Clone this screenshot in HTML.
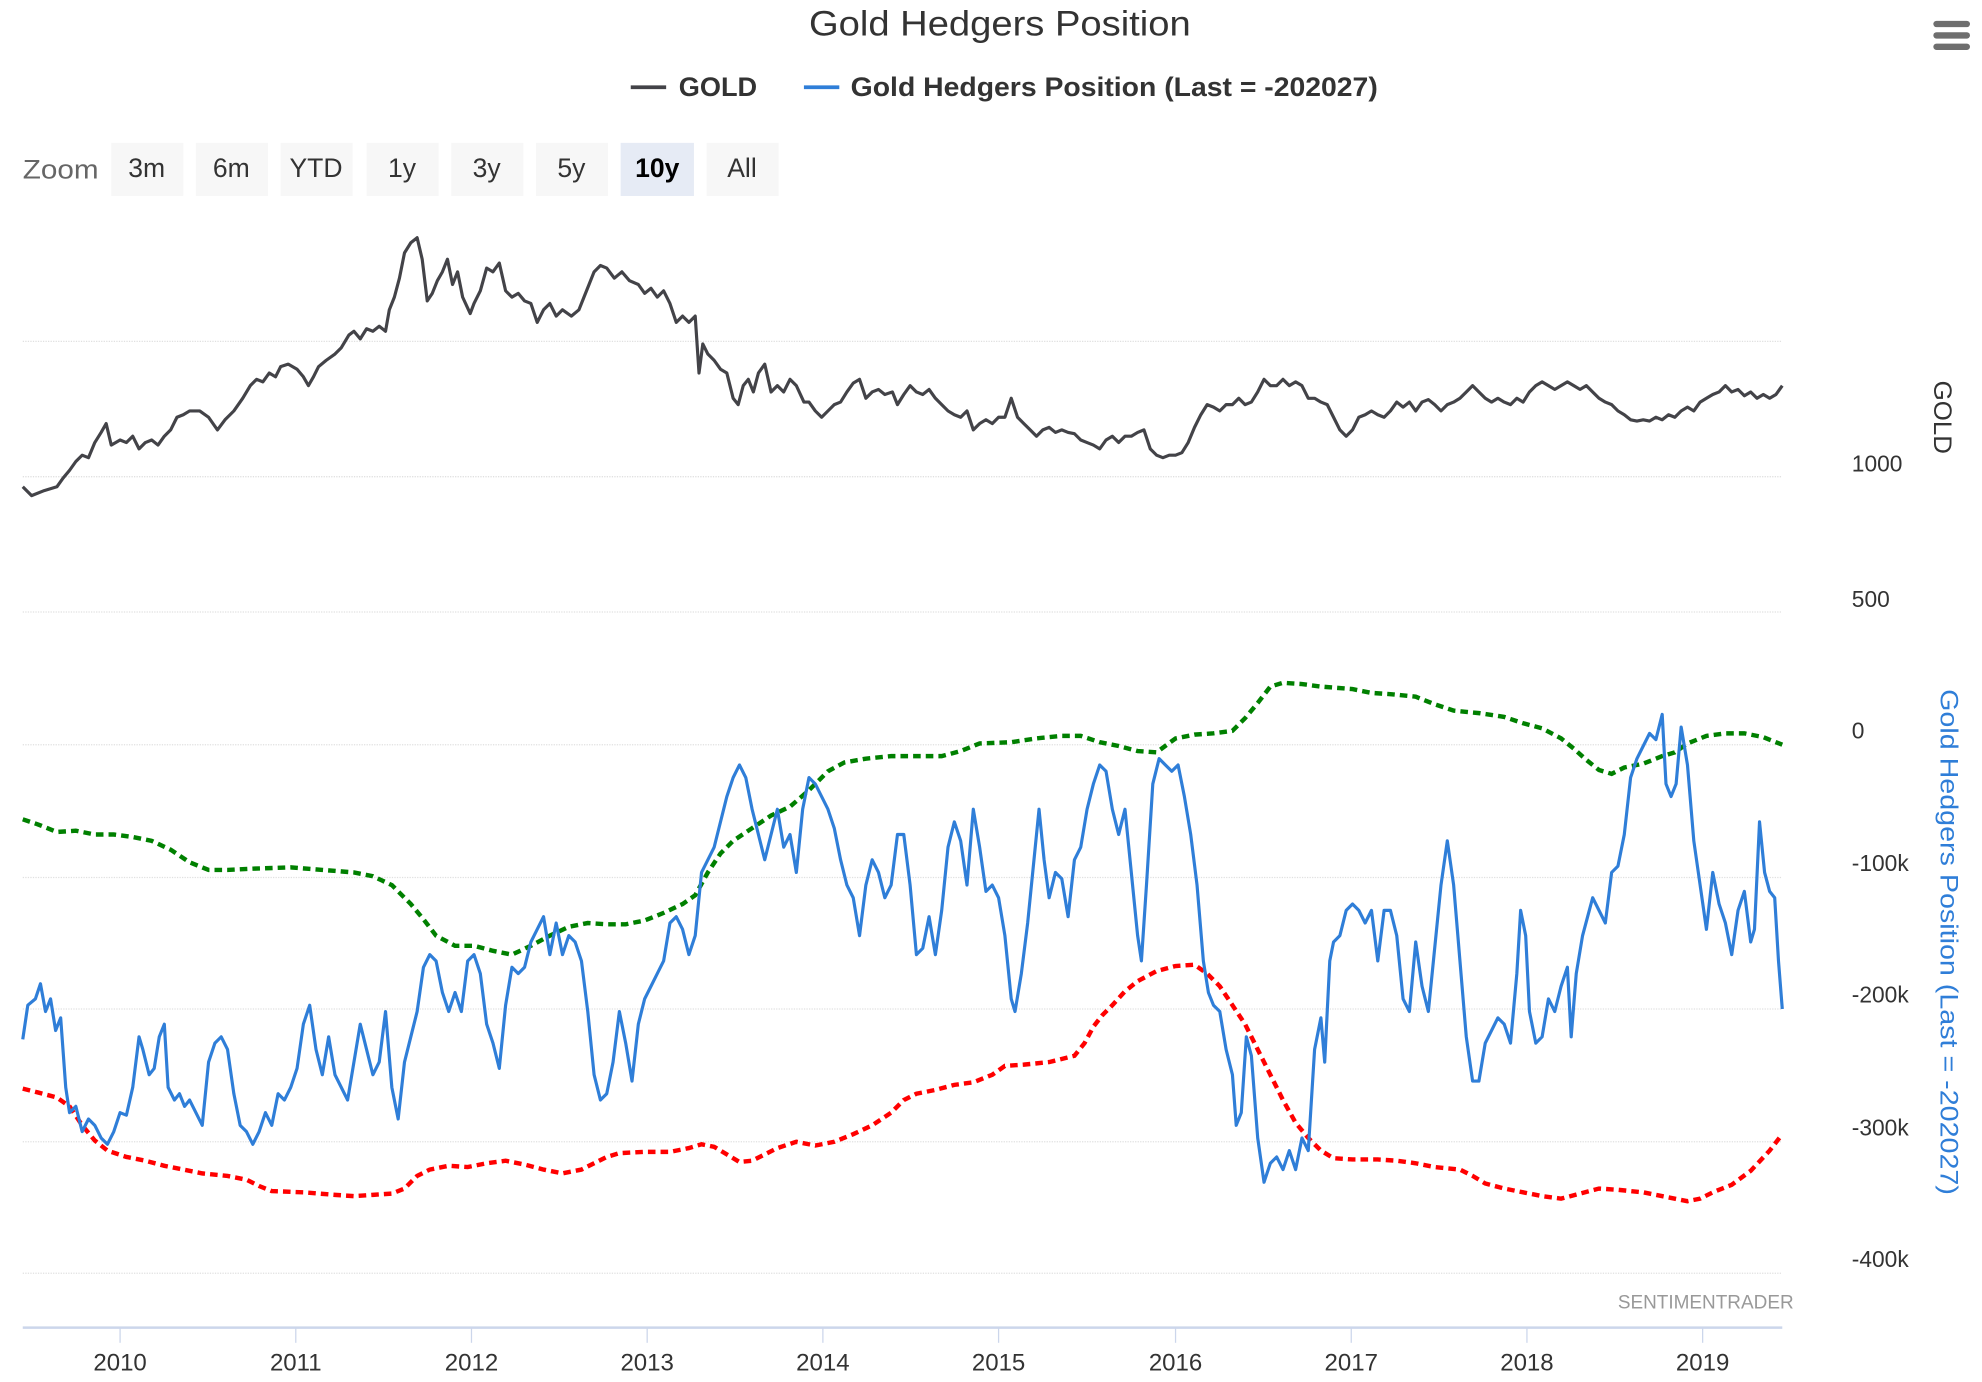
<!DOCTYPE html>
<html><head><meta charset="utf-8"><style>
html,body{margin:0;padding:0;background:#fff;}
svg{display:block;font-family:"Liberation Sans",sans-serif;}
</style></head><body>
<svg width="1982" height="1382" viewBox="0 0 1568 1093" preserveAspectRatio="none">
<rect width="1568" height="1093" fill="#fff"/>
<text x="640" y="28" font-size="28" fill="#333" textLength="302" lengthAdjust="spacingAndGlyphs">Gold Hedgers Position</text>
<g stroke-linecap="round" stroke-width="5" stroke="#6e6e6e"><line x1="1532" y1="19" x2="1556" y2="19"/><line x1="1532" y1="28" x2="1556" y2="28"/><line x1="1532" y1="37" x2="1556" y2="37"/></g>
<line x1="499" y1="69" x2="527" y2="69" stroke="#434348" stroke-width="3"/>
<text x="537" y="76" font-size="21" font-weight="bold" fill="#333" textLength="62" lengthAdjust="spacingAndGlyphs">GOLD</text>
<line x1="636" y1="69" x2="664" y2="69" stroke="#2f7ed8" stroke-width="3"/>
<text x="673" y="76" font-size="21" font-weight="bold" fill="#333" textLength="417" lengthAdjust="spacingAndGlyphs">Gold Hedgers Position (Last = -202027)</text>
<text x="18" y="141" font-size="21" fill="#666" textLength="60" lengthAdjust="spacingAndGlyphs">Zoom</text>
<g font-size="21" fill="#333" text-anchor="middle">
<rect x="88" y="113" width="57" height="42" fill="#f7f7f7"/><text x="116" y="140">3m</text>
<rect x="155" y="113" width="57" height="42" fill="#f7f7f7"/><text x="183" y="140">6m</text>
<rect x="222" y="113" width="57" height="42" fill="#f7f7f7"/><text x="250" y="140">YTD</text>
<rect x="290" y="113" width="57" height="42" fill="#f7f7f7"/><text x="318" y="140">1y</text>
<rect x="357" y="113" width="57" height="42" fill="#f7f7f7"/><text x="385" y="140">3y</text>
<rect x="424" y="113" width="57" height="42" fill="#f7f7f7"/><text x="452" y="140">5y</text>
<rect x="491" y="113" width="58" height="42" fill="#e6ebf5"/><text x="520" y="140" font-weight="bold" fill="#000">10y</text>
<rect x="559" y="113" width="57" height="42" fill="#f7f7f7"/><text x="587" y="140">All</text>
</g>
<g stroke="#e0e0e0" stroke-width="1" stroke-dasharray="1,1">
<line x1="18" y1="270" x2="1410" y2="270"/><line x1="18" y1="377" x2="1410" y2="377"/><line x1="18" y1="484" x2="1410" y2="484"/>
<line x1="18" y1="589" x2="1410" y2="589"/><line x1="18" y1="694" x2="1410" y2="694"/><line x1="18" y1="798" x2="1410" y2="798"/><line x1="18" y1="903" x2="1410" y2="903"/><line x1="18" y1="1007" x2="1410" y2="1007"/>
</g>
<g font-size="18" fill="#333">
<text x="1465" y="373">1000</text><text x="1465" y="480">500</text>
<text x="1465" y="584">0</text><text x="1465" y="689">-100k</text><text x="1465" y="793">-200k</text><text x="1465" y="898">-300k</text><text x="1465" y="1002">-400k</text>
</g>
<text transform="translate(1530,301) rotate(90)" font-size="20" fill="#333" textLength="58" lengthAdjust="spacingAndGlyphs">GOLD</text>
<text transform="translate(1535,545) rotate(90)" font-size="20" fill="#2f7ed8" textLength="400" lengthAdjust="spacingAndGlyphs">Gold Hedgers Position (Last = -202027)</text>
<text x="1419" y="1035" text-anchor="end" font-size="15" fill="#999">SENTIMENTRADER</text>
<line x1="18" y1="1050" x2="1410" y2="1050" stroke="#ccd6eb" stroke-width="2"/>
<g stroke="#ccd6eb" stroke-width="1">
<line x1="95" y1="1050" x2="95" y2="1062"/><line x1="234" y1="1050" x2="234" y2="1062"/><line x1="373" y1="1050" x2="373" y2="1062"/><line x1="512" y1="1050" x2="512" y2="1062"/><line x1="651" y1="1050" x2="651" y2="1062"/><line x1="790" y1="1050" x2="790" y2="1062"/><line x1="930" y1="1050" x2="930" y2="1062"/><line x1="1069" y1="1050" x2="1069" y2="1062"/><line x1="1208" y1="1050" x2="1208" y2="1062"/><line x1="1347" y1="1050" x2="1347" y2="1062"/>
</g>
<g font-size="19" fill="#333" text-anchor="middle">
<text x="95" y="1084">2010</text><text x="234" y="1084">2011</text><text x="373" y="1084">2012</text><text x="512" y="1084">2013</text><text x="651" y="1084">2014</text><text x="790" y="1084">2015</text><text x="930" y="1084">2016</text><text x="1069" y="1084">2017</text><text x="1208" y="1084">2018</text><text x="1347" y="1084">2019</text>
</g>
<polyline fill="none" stroke="#008000" stroke-width="3.5" stroke-dasharray="6,4" points="18,648 30,652 45,658 60,657 75,660 90,660 105,662 120,665 135,672 150,682 165,688 180,688 200,687 230,686 255,688 280,690 295,693 310,700 325,715 335,727 345,740 360,748 375,748 390,752 405,755 420,748 435,740 450,733 465,730 480,731 495,731 510,728 525,722 540,715 550,708 560,690 570,675 580,665 595,655 610,645 625,638 640,625 655,610 668,603 685,600 705,598 725,598 745,598 760,594 775,588 800,587 820,584 840,582 855,582 870,587 885,590 900,594 915,595 930,584 945,581 960,580 975,578 985,568 995,556 1005,543 1015,540 1030,541 1045,543 1070,545 1085,548 1100,549 1120,551 1135,557 1150,562 1170,564 1190,567 1205,572 1220,576 1235,584 1245,592 1255,601 1265,609 1275,612 1285,607 1300,604 1315,598 1325,595 1335,588 1350,582 1365,580 1380,580 1395,583 1410,589"/>
<polyline fill="none" stroke="#ff0000" stroke-width="3.5" stroke-dasharray="6,4" points="18,861 30,864 45,868 55,875 65,890 75,902 85,910 100,915 115,918 130,922 145,925 160,928 180,930 195,933 205,938 215,942 240,943 265,945 280,946 295,945 310,944 320,940 330,930 340,925 355,922 370,923 385,920 400,918 415,921 430,925 445,928 460,925 470,920 480,915 490,912 510,911 530,911 545,908 555,905 565,907 575,913 585,919 595,918 605,913 615,908 630,903 645,906 660,903 675,897 690,890 705,880 715,870 725,865 740,862 755,858 770,856 785,850 795,843 810,842 830,840 850,835 858,825 865,812 872,803 880,795 890,784 900,776 915,768 930,764 945,763 955,770 965,780 975,795 985,810 995,830 1005,850 1015,870 1025,888 1035,900 1045,910 1055,916 1070,917 1090,917 1105,918 1120,920 1135,923 1155,925 1165,930 1175,936 1190,940 1205,943 1220,946 1235,948 1250,944 1265,940 1280,941 1300,943 1320,947 1335,950 1345,948 1355,943 1370,937 1385,926 1400,910 1410,897"/>
<polyline fill="none" stroke="#2f7ed8" stroke-width="2.5" stroke-linejoin="round" points="18,822 22,795 28,790 32,778 36,800 40,790 44,815 48,805 52,860 55,880 60,875 65,895 70,885 75,890 80,900 85,905 90,895 95,880 100,882 105,860 110,820 113,830 118,850 122,845 126,820 130,810 133,860 138,870 142,865 146,875 150,870 155,880 160,890 165,840 170,825 175,820 180,830 185,865 190,890 195,895 200,905 205,895 210,880 215,890 220,865 225,870 230,860 235,845 240,810 245,795 250,830 255,850 260,820 265,850 270,860 275,870 280,840 285,810 290,830 295,850 300,840 305,800 310,860 315,885 320,840 325,820 330,800 335,765 340,755 345,760 350,785 355,800 360,785 365,800 370,760 375,755 380,770 385,810 390,825 395,845 400,795 405,765 410,770 415,765 420,745 425,735 430,725 435,755 440,730 445,755 450,740 455,745 460,760 465,800 470,850 475,870 480,865 485,840 490,800 495,825 500,855 505,810 510,790 515,780 520,770 525,760 530,730 535,725 540,735 545,755 550,740 555,690 560,680 565,670 570,650 575,630 580,615 585,605 590,615 595,640 600,660 605,680 610,660 615,640 620,670 625,660 630,690 635,640 640,615 645,620 650,630 655,640 660,655 665,680 670,700 675,710 680,740 685,700 690,680 695,690 700,710 705,700 710,660 715,660 720,700 725,755 730,750 735,725 740,755 745,720 750,670 755,650 760,665 765,700 770,640 775,670 780,705 785,700 790,710 795,740 800,790 803,800 808,770 813,730 818,680 822,640 826,680 830,710 835,690 840,695 845,725 850,680 855,670 860,640 865,620 870,605 875,610 880,640 885,660 890,640 895,690 900,740 903,760 907,700 912,620 917,600 922,605 927,610 932,605 937,630 942,660 947,700 952,760 956,785 960,795 965,800 970,830 975,850 978,890 982,880 986,820 990,835 995,900 1000,935 1005,920 1010,915 1015,925 1020,910 1025,925 1030,900 1035,910 1040,830 1045,805 1048,840 1052,760 1055,745 1060,740 1065,720 1070,715 1075,720 1080,730 1085,720 1090,760 1095,720 1100,720 1105,740 1110,790 1115,800 1120,745 1125,780 1130,800 1135,750 1140,700 1145,665 1150,700 1155,760 1160,820 1165,855 1170,855 1175,825 1180,815 1185,805 1190,810 1195,825 1200,770 1203,720 1207,740 1210,800 1215,825 1220,820 1225,790 1230,800 1235,780 1240,765 1243,820 1247,770 1252,740 1256,725 1260,710 1265,720 1270,730 1275,690 1280,685 1285,660 1290,615 1295,600 1300,590 1305,580 1310,585 1315,565 1318,620 1322,630 1326,620 1330,575 1335,605 1340,665 1345,700 1350,735 1355,690 1360,715 1365,730 1370,755 1375,720 1380,705 1385,745 1388,735 1392,650 1396,690 1400,705 1404,710 1407,760 1410,798"/>
<polyline fill="none" stroke="#434348" stroke-width="2.5" stroke-linejoin="round" points="18,385 25,392 35,388 45,385 50,378 55,372 60,365 65,360 70,362 75,350 80,342 84,335 88,352 95,348 100,350 105,345 110,355 115,350 120,348 125,352 130,345 135,340 140,330 145,328 150,325 158,325 165,330 172,340 178,332 185,325 192,315 198,305 203,300 208,302 213,295 218,298 222,290 228,288 235,292 240,298 244,305 248,298 252,290 258,285 265,280 270,275 276,265 280,262 285,268 290,260 295,262 300,258 305,262 308,245 312,235 316,220 320,200 325,192 330,188 334,205 338,238 342,232 346,222 350,215 354,205 358,225 362,215 366,235 372,248 375,240 380,230 385,212 390,215 395,208 400,230 405,235 410,232 415,238 420,240 425,255 430,245 435,240 440,250 445,245 452,250 458,245 462,235 466,225 470,215 475,210 480,212 486,220 492,215 498,222 505,225 510,232 515,228 520,235 525,230 530,240 535,255 540,250 545,255 550,250 553,295 556,272 560,280 565,285 570,292 575,295 580,315 584,320 588,305 592,300 596,310 600,295 605,288 610,310 615,305 620,310 625,300 630,305 636,318 640,318 645,325 650,330 655,325 660,320 665,318 670,310 675,303 680,300 685,315 690,310 695,308 700,312 706,310 710,320 715,312 720,305 725,310 730,312 735,308 740,315 745,320 750,325 755,328 760,330 765,325 770,340 775,335 780,332 785,335 790,330 795,330 800,315 805,330 810,335 815,340 820,345 825,340 830,338 835,342 840,340 845,342 850,343 855,348 860,350 865,352 870,355 875,348 880,345 885,350 890,345 895,345 900,342 905,340 910,355 915,360 920,362 925,360 930,360 935,358 940,350 945,338 950,328 955,320 960,322 965,325 970,320 975,320 980,315 985,320 990,318 995,310 1000,300 1005,305 1010,305 1015,300 1020,305 1025,302 1030,305 1035,315 1040,315 1045,318 1050,320 1055,330 1060,340 1065,345 1070,340 1075,330 1080,328 1085,325 1090,328 1095,330 1100,325 1105,318 1110,322 1115,318 1120,325 1125,318 1130,316 1135,320 1140,325 1145,320 1150,318 1155,315 1160,310 1165,305 1170,310 1175,315 1180,318 1185,315 1190,318 1195,320 1200,315 1205,318 1210,310 1215,305 1220,302 1225,305 1230,308 1235,305 1240,302 1245,305 1250,308 1255,305 1260,310 1265,315 1270,318 1275,320 1280,325 1285,328 1290,332 1295,333 1300,332 1305,333 1310,330 1315,332 1320,328 1325,330 1330,325 1335,322 1340,325 1345,318 1350,315 1355,312 1360,310 1365,305 1370,310 1375,308 1380,313 1385,310 1390,315 1395,312 1400,315 1405,312 1410,305"/>
</svg>
</body></html>
